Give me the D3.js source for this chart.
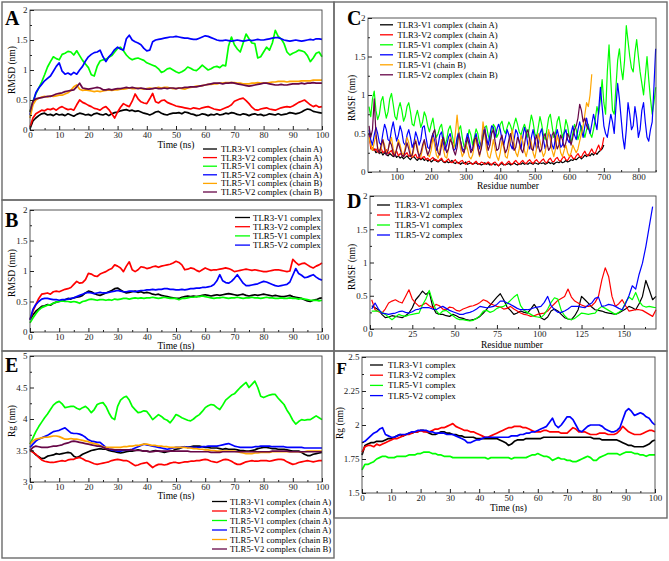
<!DOCTYPE html>
<html><head><meta charset="utf-8">
<script src="https://cdn.jsdelivr.net/npm/d3@7"></script>
<style>body{margin:0;background:#fff}svg{display:block}</style>
</head><body><svg id="c" width="669" height="561"></svg>
<script>
const FONT = '"Liberation Serif","Times New Roman",serif';
const timeNs = d3.range(0, 101);
const resC_chainA5 = d3.range(20, 851, 5);
const resC_tlr3 = d3.range(20, 701, 5);
const resC_v1B = d3.range(20, 666, 5);
const resC_v2B = d3.range(20, 656, 5);
const resD = d3.range(1, 170, 2);

const labels6 = ["TLR3-V1 complex (chain A)","TLR3-V2 complex (chain A)","TLR5-V1 complex (chain A)","TLR5-V2 complex (chain A)","TLR5-V1 complex (chain B)","TLR5-V2 complex (chain B)"];
const labelsC = ["TLR3-V1 complex (chain A)","TLR3-V2 complex (chain A)","TLR5-V1 complex (chain A)","TLR5-V2 complex (chain A)","TLR5-V1 (chain B)","TLR5-V2 complex (chain B)"];
const labels4 = ["TLR3-V1 complex","TLR3-V2 complex","TLR5-V1 complex","TLR5-V2 complex"];
const colors = ["#000000","#ff0000","#00ff00","#0000ff","#ffa500","#670748"];

// Panel A: RMSD (nm)
const rmsdA_TLR3V1_A = [0.02,0.15,0.2,0.24,0.27,0.28,0.25,0.26,0.24,0.27,
0.25,0.26,0.24,0.27,0.25,0.23,0.26,0.28,0.27,0.25,
0.26,0.24,0.27,0.28,0.26,0.25,0.27,0.24,0.27,0.29,
0.3,0.32,0.33,0.34,0.32,0.33,0.31,0.32,0.3,0.28,
0.27,0.25,0.27,0.3,0.31,0.28,0.26,0.25,0.27,0.28,
0.28,0.29,0.27,0.3,0.29,0.27,0.26,0.24,0.25,0.27,
0.26,0.24,0.26,0.25,0.27,0.25,0.26,0.28,0.27,0.29,
0.28,0.26,0.25,0.27,0.26,0.24,0.26,0.27,0.25,0.26,
0.24,0.25,0.27,0.26,0.25,0.27,0.25,0.26,0.27,0.29,
0.28,0.27,0.28,0.3,0.33,0.35,0.34,0.31,0.3,0.29,0.28];
const rmsdA_TLR3V2_A = [0.05,0.2,0.27,0.3,0.33,0.32,0.35,0.34,0.36,0.33,
0.37,0.39,0.36,0.34,0.35,0.33,0.42,0.5,0.46,0.44,
0.41,0.39,0.36,0.35,0.33,0.37,0.39,0.34,0.27,0.2,
0.3,0.38,0.44,0.41,0.39,0.48,0.6,0.52,0.47,0.45,
0.44,0.52,0.61,0.47,0.45,0.49,0.5,0.46,0.44,0.42,
0.4,0.39,0.38,0.37,0.36,0.35,0.37,0.36,0.35,0.37,
0.38,0.39,0.37,0.35,0.34,0.33,0.35,0.37,0.39,0.42,
0.48,0.5,0.52,0.53,0.49,0.44,0.38,0.34,0.33,0.35,
0.36,0.37,0.35,0.34,0.33,0.35,0.37,0.38,0.39,0.38,
0.4,0.43,0.46,0.48,0.5,0.46,0.42,0.39,0.41,0.38,0.39];
const rmsdA_TLR5V1_A = [0.3,0.48,0.6,0.7,0.8,0.92,1.05,1.14,1.22,1.19,
1.17,1.26,1.28,1.31,1.3,1.25,1.32,1.24,1.16,1.1,
1.04,0.92,0.9,1.06,1.15,1.17,1.18,1.21,1.24,1.3,
1.36,1.38,1.32,1.25,1.2,1.17,1.19,1.2,1.18,1.16,
1.12,1.1,1.08,1.06,1.02,0.96,0.98,1.02,1.03,1.0,
0.97,0.95,0.97,1.0,1.05,1.03,1.0,0.99,1.03,1.08,
1.04,1.0,1.02,1.05,1.06,1.04,1.08,1.07,1.4,1.55,
1.42,1.35,1.3,1.45,1.6,1.52,1.45,1.44,1.2,1.22,
1.3,1.38,1.33,1.45,1.66,1.56,1.52,1.44,1.3,1.25,
1.28,1.3,1.33,1.32,1.3,1.24,1.14,1.2,1.28,1.3,1.22];
const rmsdA_TLR5V2_A = [0.25,0.45,0.62,0.7,0.76,0.82,0.86,0.9,0.98,1.06,
1.12,0.98,0.93,0.95,0.92,0.96,0.93,1.0,1.06,1.15,
1.22,1.26,1.29,1.3,1.33,1.22,1.14,1.22,1.27,1.34,
1.38,1.35,1.33,1.52,1.58,1.5,1.47,1.45,1.42,1.36,
1.32,1.33,1.47,1.5,1.51,1.52,1.53,1.54,1.55,1.55,
1.56,1.55,1.54,1.53,1.53,1.52,1.51,1.51,1.53,1.55,
1.57,1.56,1.54,1.52,1.5,1.49,1.49,1.5,1.49,1.48,
1.49,1.5,1.49,1.48,1.49,1.5,1.49,1.5,1.51,1.5,
1.5,1.51,1.52,1.53,1.54,1.54,1.52,1.5,1.49,1.48,
1.49,1.5,1.49,1.48,1.49,1.5,1.51,1.5,1.52,1.52,1.51];
const rmsdA_TLR5V1_B = [0.2,0.42,0.5,0.53,0.55,0.56,0.55,0.57,0.56,0.57,
0.58,0.58,0.6,0.62,0.66,0.72,0.75,0.68,0.66,0.67,
0.66,0.65,0.64,0.65,0.64,0.65,0.66,0.67,0.66,0.67,
0.67,0.68,0.68,0.69,0.7,0.69,0.69,0.7,0.69,0.68,
0.69,0.7,0.69,0.7,0.71,0.7,0.71,0.71,0.7,0.69,
0.69,0.7,0.69,0.68,0.7,0.71,0.72,0.73,0.73,0.74,
0.75,0.76,0.76,0.77,0.77,0.78,0.78,0.79,0.79,0.79,
0.79,0.78,0.78,0.77,0.77,0.77,0.78,0.78,0.79,0.78,
0.78,0.78,0.79,0.8,0.8,0.81,0.81,0.81,0.8,0.81,
0.81,0.81,0.81,0.82,0.82,0.82,0.82,0.83,0.83,0.83,0.83];
const rmsdA_TLR5V2_B = [0.3,0.48,0.52,0.53,0.54,0.55,0.56,0.56,0.58,0.6,
0.61,0.62,0.64,0.65,0.66,0.67,0.72,0.78,0.7,0.69,
0.68,0.69,0.7,0.71,0.7,0.67,0.67,0.68,0.67,0.68,
0.69,0.69,0.7,0.71,0.7,0.71,0.7,0.69,0.7,0.69,
0.68,0.68,0.69,0.7,0.69,0.69,0.7,0.69,0.7,0.7,
0.69,0.7,0.7,0.71,0.71,0.72,0.72,0.72,0.73,0.74,
0.75,0.76,0.77,0.78,0.78,0.78,0.77,0.78,0.78,0.79,
0.78,0.77,0.76,0.75,0.74,0.73,0.74,0.75,0.76,0.77,
0.78,0.78,0.77,0.76,0.75,0.75,0.76,0.75,0.75,0.76,
0.77,0.77,0.77,0.78,0.77,0.78,0.78,0.79,0.78,0.78,0.78];

// Panel B: RMSD (nm), ligand complexes
const rmsdB_TLR3V1 = [0.2,0.28,0.34,0.38,0.42,0.43,0.45,0.44,0.47,0.49,
0.5,0.51,0.53,0.55,0.54,0.56,0.57,0.58,0.6,0.64,
0.67,0.66,0.63,0.61,0.6,0.62,0.64,0.66,0.68,0.71,
0.72,0.69,0.66,0.64,0.65,0.66,0.67,0.65,0.66,0.64,
0.65,0.64,0.62,0.61,0.62,0.6,0.59,0.58,0.57,0.56,
0.55,0.55,0.57,0.58,0.59,0.58,0.59,0.58,0.59,0.6,
0.61,0.6,0.59,0.6,0.61,0.6,0.61,0.62,0.63,0.62,
0.61,0.6,0.61,0.62,0.6,0.59,0.6,0.61,0.6,0.61,
0.62,0.61,0.6,0.59,0.6,0.59,0.58,0.58,0.59,0.6,
0.58,0.57,0.56,0.55,0.53,0.51,0.5,0.52,0.53,0.55,0.56];
const rmsdB_TLR3V2 = [0.2,0.34,0.45,0.55,0.62,0.63,0.64,0.62,0.66,0.67,
0.66,0.68,0.7,0.71,0.73,0.78,0.83,0.8,0.81,0.86,
0.96,0.95,0.92,0.91,0.95,0.97,0.99,1.02,1.04,1.1,
1.08,1.05,0.99,1.08,1.15,1.02,0.99,1.02,1.07,1.06,
1.04,1.05,1.07,1.08,1.06,1.08,1.09,1.1,1.11,1.13,
1.16,1.14,1.1,1.02,1.03,1.05,1.04,1.01,0.99,1.02,
1.05,1.03,1.01,1.02,1.02,1.03,1.04,1.05,1.04,1.02,
0.99,1.0,1.01,1.02,1.03,1.02,1.01,1.02,1.01,1.0,
0.99,0.99,1.0,1.01,1.02,1.02,1.01,1.0,0.99,1.0,
1.19,1.14,1.1,1.12,1.13,1.1,1.07,1.05,1.08,1.1,1.13];
const rmsdB_TLR5V1 = [0.15,0.23,0.3,0.36,0.4,0.42,0.44,0.45,0.47,0.49,
0.5,0.51,0.5,0.5,0.49,0.5,0.49,0.47,0.5,0.51,
0.53,0.54,0.53,0.52,0.53,0.53,0.52,0.53,0.52,0.54,
0.53,0.54,0.55,0.55,0.54,0.55,0.56,0.55,0.56,0.55,
0.56,0.56,0.57,0.56,0.55,0.56,0.57,0.56,0.55,0.55,
0.55,0.53,0.55,0.55,0.56,0.57,0.57,0.58,0.58,0.59,
0.58,0.57,0.56,0.55,0.56,0.56,0.57,0.56,0.55,0.56,
0.56,0.57,0.56,0.55,0.56,0.56,0.57,0.56,0.56,0.55,
0.56,0.57,0.56,0.56,0.55,0.55,0.56,0.55,0.55,0.56,
0.55,0.55,0.54,0.55,0.54,0.53,0.52,0.52,0.52,0.51,0.52];
const rmsdB_TLR5V2 = [0.2,0.37,0.45,0.5,0.54,0.55,0.55,0.54,0.53,0.53,
0.52,0.53,0.53,0.54,0.55,0.56,0.58,0.6,0.62,0.64,
0.65,0.64,0.63,0.64,0.65,0.64,0.64,0.65,0.66,0.67,
0.68,0.67,0.66,0.66,0.67,0.67,0.66,0.67,0.68,0.68,
0.69,0.69,0.7,0.69,0.7,0.7,0.71,0.71,0.7,0.7,
0.69,0.69,0.7,0.69,0.7,0.71,0.71,0.72,0.72,0.73,
0.73,0.74,0.75,0.78,0.84,0.94,0.84,0.81,0.8,0.83,
0.88,0.94,0.87,0.8,0.76,0.76,0.77,0.78,0.79,0.81,
0.83,0.82,0.8,0.78,0.76,0.75,0.76,0.77,0.78,0.82,
0.93,1.04,0.96,0.93,0.89,0.9,0.92,0.94,0.9,0.87,0.85];

// Panel E: Rg (nm)
const rgE_TLR3V1_A = [3.52,3.48,3.43,3.4,3.37,3.38,3.41,3.42,3.43,3.45,
3.44,3.45,3.46,3.47,3.46,3.41,3.39,3.41,3.44,3.46,
3.48,3.5,3.51,3.52,3.53,3.52,3.52,3.5,3.49,3.48,
3.47,3.46,3.47,3.48,3.49,3.49,3.5,3.51,3.5,3.49,
3.49,3.48,3.49,3.5,3.49,3.48,3.47,3.48,3.49,3.5,
3.52,3.53,3.55,3.56,3.55,3.56,3.57,3.57,3.57,3.56,
3.55,3.55,3.54,3.54,3.54,3.53,3.52,3.53,3.52,3.52,
3.52,3.51,3.5,3.5,3.49,3.49,3.5,3.51,3.53,3.54,
3.55,3.55,3.54,3.53,3.53,3.52,3.52,3.52,3.51,3.5,
3.49,3.49,3.49,3.47,3.44,3.42,3.42,3.44,3.45,3.46,3.47];
const rgE_TLR3V2_A = [3.5,3.47,3.44,3.39,3.35,3.33,3.32,3.31,3.31,3.32,
3.33,3.34,3.33,3.35,3.36,3.36,3.38,3.39,3.37,3.34,
3.33,3.31,3.29,3.28,3.29,3.3,3.31,3.32,3.34,3.35,
3.36,3.35,3.34,3.34,3.32,3.29,3.26,3.27,3.29,3.3,
3.31,3.27,3.23,3.26,3.28,3.28,3.27,3.28,3.3,3.31,
3.31,3.3,3.31,3.32,3.32,3.33,3.33,3.34,3.34,3.35,
3.36,3.35,3.33,3.32,3.31,3.33,3.35,3.36,3.35,3.33,
3.3,3.28,3.28,3.3,3.32,3.33,3.34,3.33,3.33,3.34,
3.34,3.34,3.33,3.34,3.35,3.36,3.36,3.35,3.32,3.3,
3.28,3.29,3.31,3.32,3.33,3.34,3.33,3.32,3.33,3.34,3.34];
const rgE_TLR5V1_A = [3.6,3.7,3.8,3.88,3.95,4.02,4.08,4.15,4.22,4.26,
4.28,4.24,4.18,4.19,4.2,4.2,4.17,4.15,4.18,4.2,
4.16,4.1,4.15,4.23,4.25,4.26,4.2,4.1,4.02,3.99,
4.2,4.3,4.34,4.36,4.3,4.2,4.15,4.1,4.11,4.13,
4.12,4.06,3.99,4.03,4.07,4.04,4.0,3.98,3.94,4.0,
4.07,4.05,4.02,4.0,3.98,3.97,4.0,4.04,4.07,4.12,
4.18,4.21,4.23,4.22,4.18,4.15,4.22,4.3,4.34,4.38,
4.4,4.45,4.5,4.54,4.58,4.5,4.55,4.6,4.5,4.36,
4.34,4.36,4.38,4.39,4.39,4.33,4.28,4.23,4.14,4.07,
3.98,3.92,3.96,3.99,3.98,3.99,3.99,4.02,4.05,4.02,3.99];
const rgE_TLR5V2_A = [3.55,3.6,3.65,3.68,3.7,3.72,3.74,3.77,3.8,3.81,
3.82,3.84,3.86,3.82,3.78,3.77,3.77,3.76,3.74,3.71,
3.67,3.65,3.64,3.63,3.63,3.59,3.55,3.52,3.51,3.5,
3.49,3.49,3.5,3.51,3.51,3.52,3.54,3.56,3.58,3.6,
3.59,3.58,3.57,3.56,3.55,3.54,3.53,3.52,3.53,3.54,
3.55,3.55,3.55,3.56,3.55,3.55,3.55,3.55,3.55,3.56,
3.56,3.57,3.57,3.57,3.57,3.58,3.59,3.6,3.61,3.59,
3.57,3.56,3.55,3.55,3.55,3.55,3.55,3.56,3.56,3.57,
3.57,3.57,3.57,3.56,3.56,3.56,3.56,3.56,3.55,3.55,
3.55,3.55,3.55,3.55,3.54,3.54,3.54,3.54,3.54,3.54,3.54];
const rgE_TLR5V1_B = [3.6,3.65,3.68,3.69,3.7,3.71,3.71,3.72,3.73,3.73,
3.72,3.7,3.68,3.68,3.69,3.68,3.68,3.67,3.66,3.65,
3.64,3.62,3.61,3.6,3.58,3.56,3.55,3.55,3.55,3.55,
3.55,3.55,3.56,3.56,3.57,3.57,3.58,3.58,3.59,3.6,
3.6,3.59,3.58,3.58,3.57,3.57,3.56,3.56,3.55,3.55,
3.55,3.55,3.55,3.55,3.54,3.54,3.53,3.53,3.52,3.52,
3.51,3.51,3.5,3.5,3.49,3.49,3.49,3.49,3.49,3.49,
3.49,3.48,3.47,3.46,3.45,3.45,3.45,3.46,3.46,3.47,
3.47,3.47,3.47,3.48,3.48,3.48,3.48,3.48,3.48,3.48,
3.48,3.48,3.48,3.48,3.48,3.49,3.49,3.49,3.49,3.49,3.49];
const rgE_TLR5V2_B = [3.5,3.55,3.57,3.56,3.55,3.55,3.55,3.56,3.57,3.57,
3.58,3.59,3.61,3.62,3.64,3.65,3.64,3.63,3.62,3.61,
3.6,3.59,3.58,3.57,3.57,3.55,3.53,3.52,3.52,3.51,
3.51,3.51,3.51,3.51,3.51,3.51,3.5,3.5,3.5,3.49,
3.49,3.48,3.48,3.49,3.49,3.49,3.49,3.49,3.49,3.49,
3.49,3.49,3.49,3.49,3.49,3.48,3.48,3.48,3.48,3.48,
3.48,3.48,3.47,3.47,3.47,3.47,3.48,3.48,3.48,3.48,
3.48,3.48,3.48,3.48,3.48,3.48,3.48,3.48,3.48,3.48,
3.48,3.48,3.48,3.49,3.49,3.49,3.49,3.49,3.49,3.48,
3.48,3.48,3.48,3.48,3.48,3.48,3.48,3.48,3.48,3.48,3.48];

// Panel F: Rg (nm), ligand complexes
const rgF_TLR3V1 = [1.78,1.85,1.86,1.87,1.87,1.88,1.88,1.88,1.89,1.9,
1.9,1.91,1.92,1.93,1.92,1.93,1.94,1.94,1.95,1.95,
1.96,1.96,1.95,1.94,1.93,1.93,1.94,1.95,1.95,1.94,
1.94,1.93,1.93,1.92,1.92,1.91,1.91,1.91,1.91,1.9,
1.9,1.9,1.9,1.9,1.9,1.9,1.9,1.89,1.88,1.87,
1.85,1.86,1.88,1.89,1.89,1.89,1.9,1.9,1.9,1.9,
1.9,1.9,1.91,1.91,1.91,1.91,1.91,1.91,1.91,1.91,
1.91,1.91,1.91,1.91,1.91,1.91,1.91,1.91,1.91,1.9,
1.9,1.9,1.89,1.89,1.89,1.89,1.89,1.89,1.88,1.87,
1.86,1.85,1.85,1.84,1.84,1.84,1.84,1.85,1.86,1.88,1.89];
const rgF_TLR3V2 = [1.8,1.84,1.85,1.85,1.84,1.86,1.85,1.86,1.87,1.88,
1.89,1.9,1.9,1.91,1.92,1.93,1.93,1.94,1.95,1.95,
1.96,1.95,1.95,1.95,1.96,1.97,1.97,1.98,1.98,1.99,
2.0,2.01,1.99,1.98,1.97,1.96,1.96,1.95,1.95,1.94,
1.93,1.92,1.91,1.91,1.92,1.93,1.94,1.95,1.96,1.97,
1.98,1.98,1.99,1.99,1.99,1.98,1.98,1.97,1.96,1.95,
1.95,1.95,1.96,1.96,1.95,1.95,1.95,1.95,1.94,1.94,
1.94,1.96,1.98,1.97,1.95,1.95,1.95,1.94,1.93,1.93,
1.93,1.94,1.94,1.94,1.93,1.93,1.93,1.94,1.96,1.99,
1.97,1.95,1.94,1.93,1.93,1.93,1.94,1.95,1.96,1.96,1.95];
const rgF_TLR5V1 = [1.67,1.71,1.71,1.72,1.73,1.75,1.76,1.77,1.77,1.76,
1.76,1.76,1.77,1.77,1.77,1.77,1.78,1.78,1.78,1.79,
1.79,1.8,1.8,1.8,1.79,1.79,1.78,1.78,1.77,1.77,
1.77,1.76,1.76,1.76,1.76,1.76,1.76,1.76,1.76,1.76,
1.76,1.76,1.76,1.75,1.76,1.76,1.76,1.76,1.76,1.76,
1.76,1.75,1.76,1.76,1.76,1.76,1.76,1.77,1.78,1.78,
1.79,1.78,1.77,1.77,1.76,1.74,1.75,1.76,1.75,1.75,
1.74,1.74,1.73,1.73,1.74,1.75,1.76,1.77,1.76,1.74,
1.74,1.76,1.77,1.78,1.79,1.79,1.79,1.79,1.78,1.79,
1.8,1.8,1.8,1.79,1.79,1.78,1.78,1.77,1.78,1.78,1.78];
const rgF_TLR5V2 = [1.87,1.88,1.9,1.92,1.94,1.95,1.97,1.98,1.93,1.92,
1.91,1.91,1.92,1.93,1.93,1.93,1.94,1.95,1.95,1.96,
1.96,1.96,1.96,1.95,1.95,1.94,1.94,1.94,1.94,1.93,
1.93,1.93,1.92,1.91,1.9,1.89,1.87,1.87,1.88,1.89,
1.89,1.9,1.91,1.91,1.91,1.91,1.91,1.91,1.91,1.91,
1.91,1.92,1.92,1.92,1.93,1.93,1.94,1.94,1.95,1.95,
1.96,1.97,1.98,1.99,2.02,2.05,2.0,1.98,2.0,2.03,
2.06,2.06,2.04,2.0,1.96,1.95,1.97,1.99,2.0,2.0,
2.0,2.0,1.99,1.97,1.96,1.95,1.95,1.96,1.98,2.04,
2.1,2.12,2.1,2.07,2.08,2.09,2.08,2.06,2.05,2.02,2.0];

// Panel C: RMSF (nm) per residue (every 5th residue from 20)
const rmsfC_TLR3V1_A = [0.5,0.35,0.28,0.3,0.25,0.27,0.24,0.26,0.22,0.25,
0.23,0.21,0.24,0.22,0.2,0.23,0.19,0.21,0.18,0.2,
0.17,0.19,0.21,0.18,0.16,0.19,0.2,0.17,0.15,0.18,
0.16,0.18,0.15,0.17,0.14,0.16,0.13,0.15,0.17,0.14,
0.13,0.15,0.16,0.13,0.12,0.14,0.12,0.13,0.15,0.12,
0.11,0.13,0.12,0.1,0.12,0.11,0.13,0.1,0.11,0.12,
0.1,0.11,0.12,0.1,0.11,0.09,0.1,0.12,0.1,0.11,
0.09,0.1,0.11,0.09,0.1,0.08,0.1,0.11,0.09,0.1,
0.1,0.11,0.09,0.1,0.12,0.1,0.09,0.11,0.1,0.12,
0.1,0.11,0.1,0.12,0.11,0.1,0.12,0.11,0.1,0.12,
0.11,0.12,0.1,0.11,0.13,0.11,0.12,0.1,0.12,0.13,
0.12,0.14,0.12,0.13,0.15,0.13,0.14,0.16,0.15,0.17,
0.16,0.18,0.2,0.17,0.19,0.22,0.2,0.23,0.21,0.24,
0.22,0.25,0.23,0.26,0.28,0.3,0.35];
const rmsfC_TLR3V2_A = [0.5,0.3,0.32,0.28,0.3,0.26,0.28,0.31,0.25,0.27,
0.29,0.24,0.26,0.28,0.22,0.25,0.27,0.21,0.24,0.22,
0.2,0.23,0.25,0.2,0.22,0.19,0.21,0.23,0.18,0.2,
0.17,0.19,0.2,0.16,0.18,0.15,0.17,0.19,0.15,0.16,
0.14,0.16,0.18,0.14,0.13,0.15,0.17,0.13,0.12,0.14,
0.16,0.12,0.11,0.14,0.15,0.12,0.1,0.13,0.14,0.11,
0.1,0.12,0.14,0.11,0.1,0.13,0.12,0.1,0.11,0.13,
0.11,0.09,0.12,0.13,0.1,0.08,0.11,0.13,0.1,0.09,
0.12,0.14,0.11,0.1,0.13,0.15,0.12,0.1,0.13,0.15,
0.12,0.11,0.14,0.16,0.13,0.11,0.14,0.16,0.13,0.12,
0.15,0.17,0.13,0.12,0.16,0.18,0.14,0.13,0.17,0.19,
0.15,0.14,0.18,0.2,0.16,0.15,0.19,0.22,0.18,0.17,
0.21,0.24,0.2,0.19,0.24,0.27,0.22,0.21,0.26,0.3,
0.25,0.24,0.3,0.35,0.28,0.33,0.45];
const rmsfC_TLR5V1_A = [0.85,0.72,0.95,1.05,0.8,0.68,0.75,0.92,0.98,0.82,
0.7,0.78,0.95,1.02,0.88,0.72,0.68,0.82,0.9,0.8,
0.66,0.72,0.85,0.9,0.78,0.62,0.6,0.72,0.8,0.7,
0.58,0.65,0.78,0.72,0.6,0.52,0.62,0.7,0.55,0.45,
0.5,0.58,0.62,0.48,0.35,0.42,0.55,0.6,0.5,0.38,
0.32,0.4,0.55,0.6,0.45,0.33,0.3,0.42,0.55,0.48,
0.35,0.45,0.56,0.5,0.38,0.32,0.45,0.58,0.6,0.48,
0.4,0.52,0.62,0.58,0.45,0.5,0.62,0.66,0.55,0.5,
0.58,0.65,0.6,0.52,0.62,0.7,0.62,0.52,0.48,0.56,
0.62,0.55,0.45,0.6,0.74,0.65,0.5,0.45,0.58,0.72,
0.62,0.48,0.42,0.55,0.7,0.75,0.6,0.45,0.5,0.66,
0.72,0.58,0.45,0.52,0.68,0.6,0.45,0.38,0.5,0.62,
0.55,0.42,0.5,0.6,0.52,0.45,0.55,0.62,0.5,0.45,
0.55,0.68,0.85,0.75,0.95,1.2,0.9,0.75,1.3,1.65,
1.2,0.8,0.75,1.1,1.45,1.6,1.35,1.2,1.45,1.9,
1.7,1.5,1.35,1.3,1.55,1.72,1.5,1.3,1.15,1.0,
1.25,1.5,1.2,0.95,0.75,0.9,1.1];
const rmsfC_TLR5V2_A = [0.55,0.42,0.35,0.48,0.58,0.5,0.38,0.35,0.5,0.62,
0.55,0.42,0.4,0.55,0.65,0.52,0.4,0.48,0.6,0.52,
0.38,0.35,0.48,0.55,0.45,0.32,0.38,0.52,0.45,0.35,
0.42,0.58,0.6,0.45,0.32,0.3,0.42,0.5,0.4,0.28,
0.35,0.48,0.52,0.38,0.28,0.35,0.45,0.5,0.38,0.28,
0.3,0.45,0.52,0.4,0.3,0.28,0.4,0.5,0.42,0.3,
0.28,0.42,0.5,0.38,0.3,0.4,0.52,0.58,0.45,0.35,
0.48,0.6,0.58,0.45,0.55,0.62,0.55,0.42,0.35,0.45,
0.55,0.48,0.35,0.3,0.42,0.55,0.5,0.38,0.3,0.45,
0.58,0.5,0.35,0.3,0.45,0.55,0.42,0.3,0.35,0.5,
0.56,0.42,0.3,0.38,0.52,0.48,0.35,0.3,0.45,0.55,
0.45,0.32,0.35,0.5,0.55,0.42,0.38,0.5,0.6,0.48,
0.42,0.55,0.65,0.55,0.45,0.6,0.7,0.58,0.5,0.62,
0.75,0.65,0.55,0.8,1.1,0.85,0.6,0.5,0.45,0.6,
0.75,0.65,0.5,0.85,1.15,0.95,0.7,0.45,0.3,0.55,
0.9,0.75,0.55,0.6,0.85,0.7,0.45,0.55,0.8,0.9,
0.65,0.45,0.4,0.55,0.65,1.1,1.6];
const rmsfC_TLR5V1_B = [0.45,0.35,0.28,0.38,0.48,0.32,0.25,0.3,0.42,0.35,
0.25,0.28,0.38,0.45,0.3,0.22,0.3,0.42,0.35,0.25,
0.22,0.32,0.45,0.38,0.25,0.2,0.3,0.42,0.32,0.22,
0.2,0.3,0.4,0.32,0.22,0.2,0.28,0.45,0.35,0.22,
0.18,0.28,0.42,0.3,0.2,0.18,0.3,0.45,0.38,0.3,
0.5,0.74,0.5,0.3,0.2,0.25,0.38,0.3,0.2,0.17,
0.22,0.35,0.45,0.3,0.2,0.35,0.65,0.5,0.3,0.2,
0.18,0.28,0.42,0.3,0.2,0.15,0.25,0.4,0.32,0.2,
0.18,0.3,0.45,0.55,0.38,0.25,0.2,0.3,0.48,0.4,
0.28,0.2,0.3,0.45,0.38,0.25,0.18,0.3,0.5,0.4,
0.28,0.2,0.25,0.4,0.55,0.42,0.28,0.2,0.3,0.48,
0.38,0.25,0.2,0.28,0.35,0.25,0.2,0.25,0.35,0.3,
0.25,0.3,0.4,0.5,0.6,0.75,0.9,0.85,1.0,1.27];
const rmsfC_TLR5V2_B = [0.6,0.45,0.55,0.95,0.5,0.3,0.25,0.35,0.42,0.3,
0.22,0.28,0.4,0.35,0.25,0.2,0.3,0.38,0.3,0.22,
0.2,0.28,0.38,0.3,0.2,0.22,0.35,0.4,0.28,0.2,
0.25,0.35,0.42,0.3,0.22,0.28,0.4,0.5,0.55,0.38,
0.25,0.22,0.35,0.45,0.35,0.25,0.3,0.42,0.38,0.28,
0.22,0.32,0.5,0.4,0.28,0.25,0.35,0.45,0.35,0.25,
0.3,0.42,0.45,0.32,0.22,0.3,0.45,0.55,0.4,0.28,
0.35,0.5,0.55,0.4,0.28,0.3,0.42,0.48,0.35,0.25,
0.3,0.42,0.5,0.38,0.28,0.32,0.45,0.4,0.3,0.25,
0.35,0.5,0.55,0.42,0.3,0.28,0.4,0.48,0.35,0.26,
0.3,0.45,0.5,0.38,0.28,0.32,0.48,0.52,0.4,0.3,
0.35,0.48,0.42,0.32,0.38,0.5,0.45,0.35,0.45,0.55,
0.6,0.7,0.88,0.8,0.65,0.7,0.6,0.55];

// Panel D: RMSF (nm), ligand residues (every 2nd residue from 1)
const rmsfD_TLR3V1 = [0.35,0.32,0.29,0.22,0.17,0.18,0.2,0.19,0.18,0.17,
0.2,0.24,0.32,0.44,0.5,0.57,0.52,0.56,0.34,0.24,
0.22,0.22,0.2,0.19,0.22,0.2,0.17,0.16,0.14,0.13,
0.14,0.16,0.19,0.24,0.3,0.36,0.42,0.48,0.53,0.44,
0.33,0.28,0.22,0.24,0.27,0.25,0.24,0.3,0.37,0.3,
0.17,0.14,0.18,0.27,0.3,0.27,0.22,0.17,0.15,0.14,
0.2,0.29,0.49,0.44,0.39,0.33,0.29,0.28,0.27,0.25,
0.24,0.23,0.22,0.24,0.27,0.3,0.34,0.32,0.29,0.38,
0.49,0.73,0.59,0.44,0.49];
const rmsfD_TLR3V2 = [0.44,0.29,0.26,0.24,0.3,0.39,0.42,0.44,0.41,0.39,
0.49,0.59,0.45,0.39,0.34,0.36,0.39,0.35,0.32,0.37,
0.35,0.3,0.29,0.33,0.32,0.28,0.27,0.3,0.32,0.34,
0.35,0.37,0.4,0.44,0.42,0.38,0.36,0.34,0.33,0.3,
0.31,0.34,0.3,0.27,0.24,0.22,0.21,0.19,0.2,0.22,
0.23,0.24,0.27,0.33,0.38,0.43,0.46,0.49,0.6,0.48,
0.42,0.39,0.36,0.34,0.34,0.35,0.4,0.49,0.74,0.92,
0.79,0.49,0.34,0.38,0.44,0.35,0.27,0.28,0.29,0.29,
0.28,0.25,0.22,0.19,0.29];
const rmsfD_TLR5V1 = [0.27,0.27,0.27,0.25,0.22,0.18,0.14,0.18,0.22,0.2,
0.19,0.21,0.22,0.23,0.24,0.36,0.45,0.58,0.42,0.28,
0.22,0.27,0.28,0.24,0.2,0.16,0.14,0.14,0.13,0.12,
0.13,0.16,0.2,0.27,0.28,0.25,0.27,0.31,0.33,0.34,
0.38,0.43,0.48,0.52,0.35,0.28,0.25,0.22,0.19,0.18,
0.17,0.22,0.3,0.4,0.47,0.45,0.28,0.2,0.15,0.14,
0.16,0.2,0.24,0.23,0.22,0.23,0.24,0.3,0.34,0.31,
0.28,0.25,0.22,0.25,0.29,0.4,0.48,0.44,0.55,0.42,
0.35,0.33,0.34,0.33,0.32];
const rmsfD_TLR5V2 = [0.3,0.39,0.3,0.24,0.23,0.22,0.23,0.24,0.26,0.27,
0.25,0.24,0.26,0.29,0.3,0.32,0.32,0.32,0.3,0.29,
0.32,0.34,0.31,0.28,0.26,0.24,0.22,0.22,0.24,0.25,
0.27,0.3,0.34,0.33,0.32,0.33,0.34,0.37,0.42,0.42,
0.39,0.37,0.34,0.31,0.29,0.29,0.29,0.3,0.32,0.33,
0.34,0.4,0.49,0.35,0.29,0.25,0.25,0.27,0.3,0.34,
0.34,0.34,0.33,0.32,0.36,0.39,0.46,0.48,0.34,0.35,
0.37,0.36,0.34,0.31,0.29,0.38,0.5,0.65,0.6,0.82,
0.99,1.24,1.54,1.84];

const svg = d3.select("#c");
svg.append("rect").attr("width",669).attr("height",561).attr("fill","#fff");

// outer boxes
const boxes = [[2,2,334,200],[2,200,334,351],[2,351,334,558],[334,2,667,351],[334,351,667,518]];
boxes.forEach(b => svg.append("rect").attr("x",b[0]).attr("y",b[1]).attr("width",b[2]-b[0]).attr("height",b[3]-b[1])
  .attr("fill","none").attr("stroke","#6b6b6b").attr("stroke-width",1.4));

const fmt = d => String(+d.toFixed(3));
const TICKFS = 9, TITLEFS = 9.5;

function panel(p) {
  const x = d3.scaleLinear().domain(p.xd).range([p.l, p.r]);
  const y = d3.scaleLinear().domain(p.yd).range([p.b, p.t]);
  const g = svg.append("g");
  p.series.forEach(s => {
    g.append("path").datum(s.v)
      .attr("fill","none").attr("stroke",s.c).attr("stroke-width",p.sw).attr("stroke-linejoin","round")
      .attr("d", d3.line().x((d,i)=>x(s.x[i])).y(d=>y(d)));
  });
  g.append("rect").attr("x",p.l).attr("y",p.t).attr("width",p.r-p.l).attr("height",p.b-p.t)
    .attr("fill","none").attr("stroke","#444").attr("stroke-width",0.9);
  const style = s => { s.select(".domain").remove(); s.attr("font-family",FONT).attr("font-size",TICKFS).attr("color","#222"); };
  g.append("g").attr("transform",`translate(0,${p.b})`).call(d3.axisBottom(x).tickValues(p.xm).tickSize(-2).tickFormat("")).call(style);
  g.append("g").attr("transform",`translate(${p.l},0)`).call(d3.axisLeft(y).tickValues(p.ym).tickSize(-2).tickFormat("")).call(style);
  g.append("g").attr("transform",`translate(0,${p.b})`).call(d3.axisBottom(x).tickValues(p.xt).tickSize(-4).tickPadding(1.5).tickFormat(fmt)).call(style);
  g.append("g").attr("transform",`translate(${p.l},0)`).call(d3.axisLeft(y).tickValues(p.yt).tickSize(-4).tickPadding(2.5).tickFormat(fmt)).call(style);
  g.append("text").attr("x",(p.l+p.r)/2 + (p.xtdx||0)).attr("y",p.xty).attr("text-anchor","middle").attr("dominant-baseline","central")
    .attr("font-family",FONT).attr("font-size",TITLEFS).text(p.xtitle);
  g.append("text").attr("transform",`translate(${p.ytx},${p.yty}) rotate(-90)`).attr("text-anchor","middle").attr("dominant-baseline","central")
    .attr("font-family",FONT).attr("font-size",TITLEFS).text(p.ytitle);
  g.append("text").attr("x",p.lx).attr("y",p.ly).attr("font-family",FONT).attr("font-weight","bold").attr("font-size",p.lfs||20).text(p.letter);
  const L = p.leg;
  p.series.forEach((s,i) => {
    const yy = L.y0 + i*L.dy;
    g.append("line").attr("x1",L.x1).attr("x2",L.x2).attr("y1",yy).attr("y2",yy).attr("stroke",s.c).attr("stroke-width",1.3);
    g.append("text").attr("x",L.tx).attr("y",yy).attr("dominant-baseline","central").attr("font-family",FONT).attr("font-size",L.fs).text(s.n);
  });
}

const tMajor = [0,10,20,30,40,50,60,70,80,90,100];
const tMinor = [5,15,25,35,45,55,65,75,85,95];

panel({letter:"A", lx:5, ly:25, l:30, r:322, t:10, b:130, xd:[0,100], yd:[0,2], sw:1.7,
  xt:tMajor, xm:tMinor, yt:[0,0.5,1,1.5,2], ym:[0.25,0.75,1.25,1.75],
  xtitle:"Time (ns)", xty:144.5, ytitle:"RMSD (nm)", ytx:11.5, yty:70,
  series:[rmsdA_TLR3V1_A,rmsdA_TLR3V2_A,rmsdA_TLR5V1_A,rmsdA_TLR5V2_A,rmsdA_TLR5V1_B,rmsdA_TLR5V2_B].map((v,i)=>({v, x:timeNs, c:colors[i], n:labels6[i]})),
  leg:{x1:203, x2:217, tx:221, y0:149, dy:8.6, fs:8.7}});

panel({letter:"B", lx:5, ly:227, l:30, r:322, t:210, b:332, xd:[0,100], yd:[0,2], sw:1.7,
  xt:tMajor, xm:tMinor, yt:[0,0.5,1,1.5,2], ym:[0.25,0.75,1.25,1.75],
  xtitle:"Time (ns)", xty:345.5, ytitle:"RMSD (nm)", ytx:11.5, yty:273,
  series:[rmsdB_TLR3V1,rmsdB_TLR3V2,rmsdB_TLR5V1,rmsdB_TLR5V2].map((v,i)=>({v, x:timeNs, c:colors[i], n:labels4[i]})),
  leg:{x1:235, x2:250, tx:253, y0:217.5, dy:9.2, fs:8.9}});

panel({letter:"E", lx:5, ly:372, l:30, r:322, t:356, b:482, xd:[0,100], yd:[3,5], sw:1.7,
  xt:tMajor, xm:tMinor, yt:[3,3.5,4,4.5,5], ym:[3.25,3.75,4.25,4.75],
  xtitle:"Time (ns)", xty:496, ytitle:"Rg (nm)", ytx:11.5, yty:421,
  series:[rgE_TLR3V1_A,rgE_TLR3V2_A,rgE_TLR5V1_A,rgE_TLR5V2_A,rgE_TLR5V1_B,rgE_TLR5V2_B].map((v,i)=>({v, x:timeNs, c:colors[i], n:labels6[i]})),
  leg:{x1:212, x2:227, tx:230, y0:501.5, dy:9.5, fs:8.7}});

panel({letter:"C", lx:347, ly:25, l:368, r:656, t:18, b:172, xd:[17,851], yd:[0,2], sw:1.2,
  xt:[100,200,300,400,500,600,700,800], xm:[50,150,250,350,450,550,650,750,850], yt:[0,0.5,1,1.5,2], ym:[0.25,0.75,1.25,1.75],
  xtitle:"Residue number", xtdx:-4, xty:185.5, ytitle:"RMSF (nm)", ytx:351.5, yty:98,
  series:[[rmsfC_TLR3V1_A,resC_tlr3],[rmsfC_TLR3V2_A,resC_tlr3],[rmsfC_TLR5V1_A,resC_chainA5],[rmsfC_TLR5V2_A,resC_chainA5],[rmsfC_TLR5V1_B,resC_v1B],[rmsfC_TLR5V2_B,resC_v2B]]
    .map((a,i)=>({v:a[0], x:a[1], c:colors[i], n:labelsC[i]})),
  leg:{x1:380, x2:393, tx:397.5, y0:24.8, dy:10, fs:8.6}});

panel({letter:"D", lx:347, ly:208, l:370, r:656, t:196, b:329, xd:[0,169], yd:[0,2], sw:1.2,
  xt:[0,25,50,75,100,125,150], xm:[12.5,37.5,62.5,87.5,112.5,137.5,162.5], yt:[0,0.5,1,1.5,2], ym:[0.25,0.75,1.25,1.75],
  xtitle:"Residue number", xtdx:-1, xty:344.5, ytitle:"RMSF (nm)", ytx:351.5, yty:267,
  series:[rmsfD_TLR3V1,rmsfD_TLR3V2,rmsfD_TLR5V1,rmsfD_TLR5V2].map((v,i)=>({v, x:resD, c:colors[i], n:labels4[i]})),
  leg:{x1:377, x2:390, tx:395, y0:205, dy:10, fs:8.9}});

panel({letter:"F", lx:336.5, ly:374, lfs:17, l:362, r:655, t:357, b:493, xd:[0,100], yd:[1.5,2.5], sw:1.7,
  xt:tMajor, xm:tMinor, yt:[1.5,1.75,2,2.25,2.5], ym:[1.625,1.875,2.125,2.375],
  xtitle:"Time (ns)", xty:507.5, ytitle:"Rg (nm)", ytx:339.5, yty:423,
  series:[rgF_TLR3V1,rgF_TLR3V2,rgF_TLR5V1,rgF_TLR5V2].map((v,i)=>({v, x:timeNs, c:colors[i], n:labels4[i]})),
  leg:{x1:370, x2:383, tx:388, y0:365, dy:10.2, fs:8.9}});
</script>
</body></html>
